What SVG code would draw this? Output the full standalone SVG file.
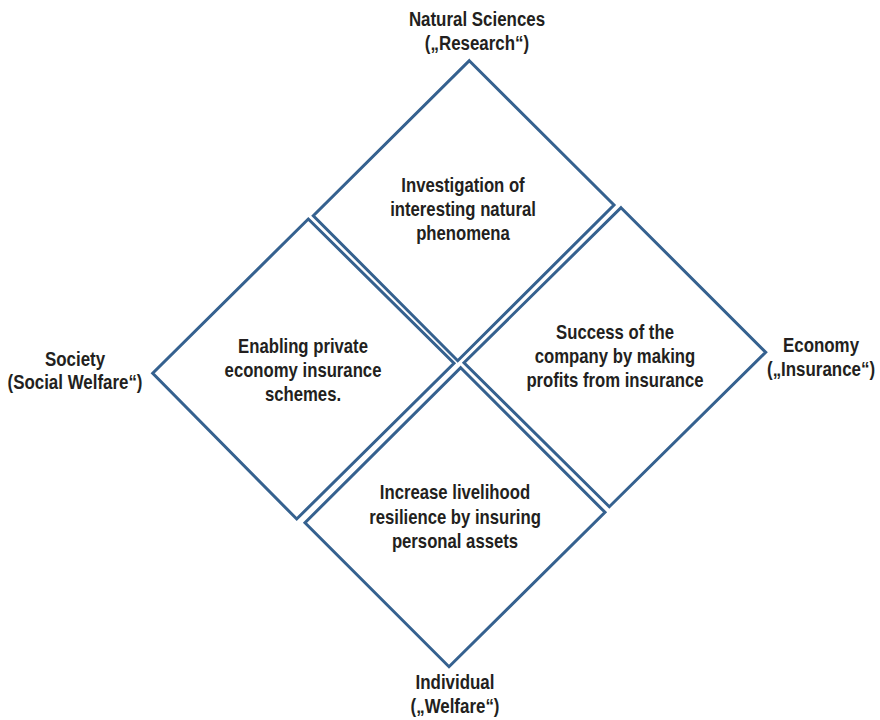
<svg xmlns="http://www.w3.org/2000/svg" width="880" height="720" viewBox="0 0 880 720">
<style>
.d{fill:#ffffff;stroke:#35618f;stroke-width:3;stroke-linejoin:miter}
.t{font-family:"Liberation Sans",Arial,sans-serif;font-weight:bold;font-size:20.5px;fill:#231f20;text-anchor:middle}
</style>
<rect width="880" height="720" fill="#ffffff"/>
<g id="connectors"/>
<g id="node-research">
<polygon class="d" points="469.3,60.7 614,205 457.7,360.7 313.3,215.7"/>
<g transform="translate(463,0) scale(0.815,1)">
<text class="t" x="0" y="192">Investigation of</text>
<text class="t" x="0" y="216">interesting natural</text>
<text class="t" x="0" y="240">phenomena</text>
</g>
</g>
<g id="node-society">
<polygon class="d" points="308.3,219 454,363.3 296.7,519 152.7,373.3"/>
<g transform="translate(303,0) scale(0.815,1)">
<text class="t" x="0" y="353">Enabling private</text>
<text class="t" x="0" y="377">economy insurance</text>
<text class="t" x="0" y="401">schemes.</text>
</g>
</g>
<g id="node-economy">
<polygon class="d" points="621,207.7 765.7,352.3 609.3,506.7 464,362.7"/>
<g transform="translate(615,0) scale(0.815,1)">
<text class="t" x="0" y="339">Success of the</text>
<text class="t" x="0" y="363">company by making</text>
<text class="t" x="0" y="387">profits from insurance</text>
</g>
</g>
<g id="node-individual">
<polygon class="d" points="460.7,367.7 605,512.3 449,666.7 305,522.7"/>
<g transform="translate(455,0) scale(0.815,1)">
<text class="t" x="0" y="499">Increase livelihood</text>
<text class="t" x="0" y="524">resilience by insuring</text>
<text class="t" x="0" y="548">personal assets</text>
</g>
</g>
<g id="label-top" transform="translate(477,0) scale(0.825,1)">
<text class="t" x="0" y="26">Natural Sciences</text>
<text class="t" x="0" y="50">(„Research“)</text>
</g>
<g id="label-left" transform="translate(75,0) scale(0.825,1)">
<text class="t" x="0" y="366">Society</text>
<text class="t" x="0" y="389">(Social Welfare“)</text>
</g>
<g id="label-right" transform="translate(821,0) scale(0.825,1)">
<text class="t" x="0" y="352">Economy</text>
<text class="t" x="0" y="376">(„Insurance“)</text>
</g>
<g id="label-bottom" transform="translate(455,0) scale(0.825,1)">
<text class="t" x="0" y="689">Individual</text>
<text class="t" x="0" y="713">(„Welfare“)</text>
</g>
</svg>
